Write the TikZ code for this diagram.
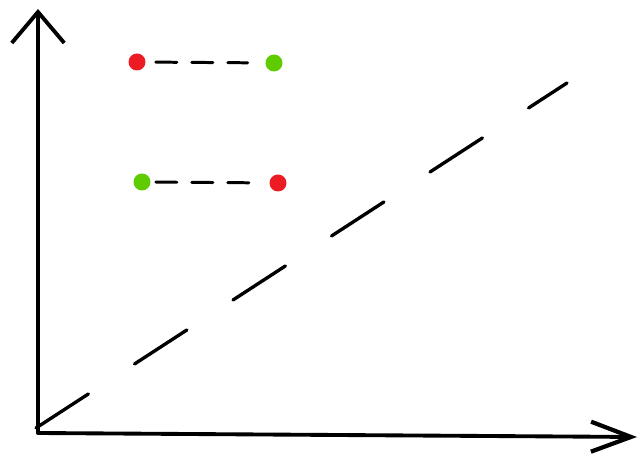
\documentclass[tikz,border=0pt]{standalone}
\usepackage{tikz}
\usetikzlibrary{arrows.meta, positioning}
\definecolor{dotred}{RGB}{237,28,36}
\definecolor{dotgreen}{RGB}{94,204,0}
\tikzstyle{dot} = [circle, inner sep=0pt, minimum size=0.34cm]
\tikzstyle{reddot} = [dot, fill=dotred]
\tikzstyle{greendot} = [dot, fill=dotgreen]
\tikzstyle{axis} = [line width=2.2pt, line cap=round, -{Straight Barb[length=0.62cm, width=1.05cm, line width=2.2pt]}]
\tikzstyle{xaxis} = [line width=2.2pt, line cap=round, -{Straight Barb[length=0.8cm, width=0.6cm, line width=2.4pt]}]
\tikzstyle{diag} = [line width=1.9pt, line cap=round, dash pattern=on 1.25cm off 1.1cm]
\tikzstyle{link} = [line width=1.7pt, line cap=round, dash pattern=on 0.42cm off 0.3cm]

\begin{document}
\begin{tikzpicture}[x=0.02cm, y=-0.02cm]
    \useasboundingbox (0,0) rectangle (643,455);
    \coordinate (origin) at (38,433);
    \coordinate (ytop) at (38,9);
    \coordinate (xend) at (637,437);
    \coordinate (diagstart) at (36,428);
    \coordinate (diagend) at (567,83);

    \node (r1) [reddot] at (137,62) {};
    \node (g1) [greendot] at (274,63) {};
    \node (g2) [greendot] at (142,182) {};
    \node (r2) [reddot] at (278,183) {};

    \draw [axis] (origin) -- (ytop);
    \draw [xaxis] (origin) -- (xend);
    \draw [diag] (diagstart) -- (diagend);
    \draw [link, shorten <=0.2cm, shorten >=0.35cm] (r1) -- (g1);
    \draw [link, shorten <=0.1cm, shorten >=0.4cm] (g2) -- (r2);
\end{tikzpicture}
\end{document}
